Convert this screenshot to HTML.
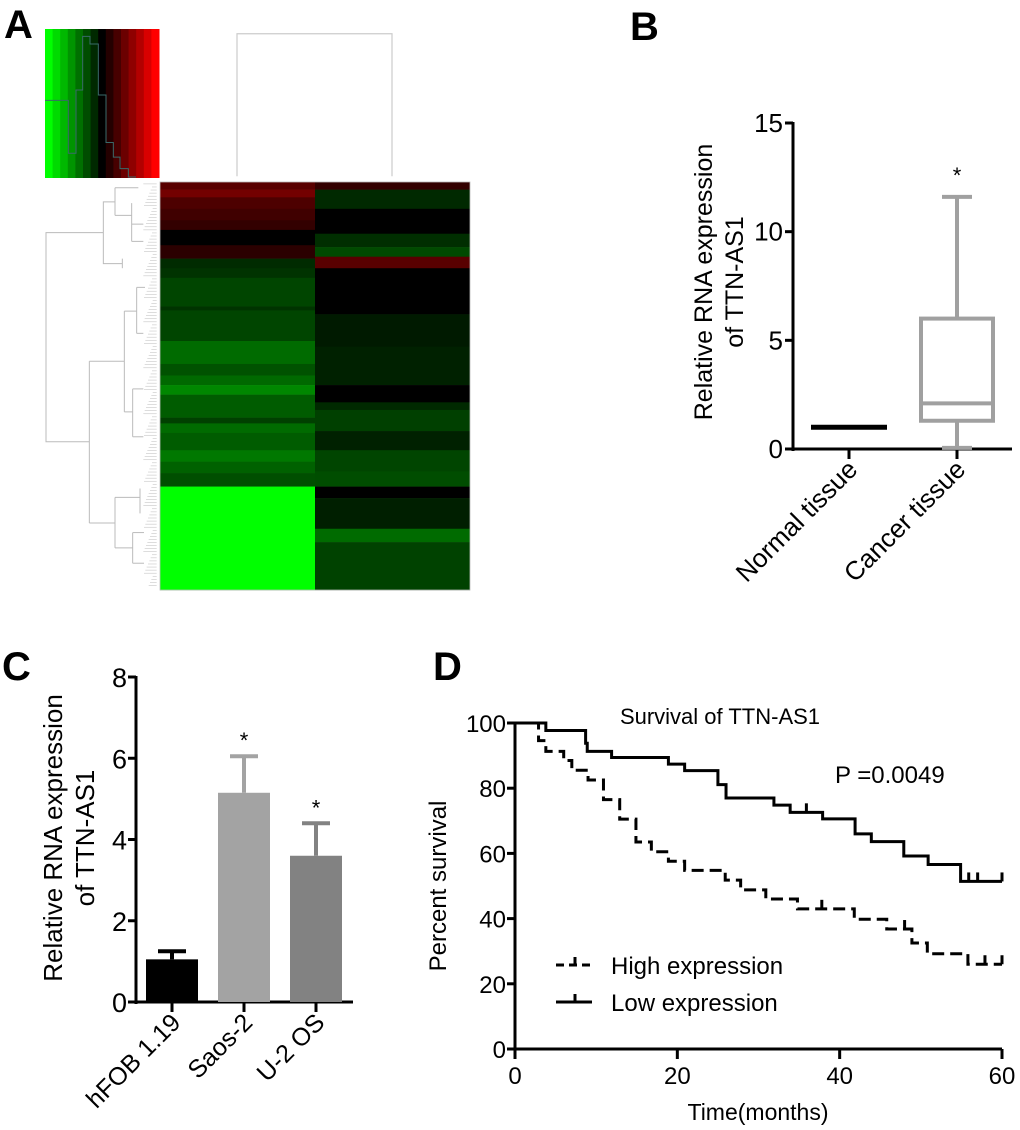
<!DOCTYPE html>
<html><head><meta charset="utf-8">
<style>
body{margin:0;background:#fff;}
svg{display:block;font-family:"Liberation Sans",Arial,sans-serif;}
</style></head>
<body>
<svg id="fig" width="1020" height="1130" viewBox="0 0 1020 1130" xmlns="http://www.w3.org/2000/svg">
<g id="pA"></g>
<g id="pB"></g>
<g id="pC"></g>
<g id="pD"></g>
</svg>
<script>
// ---------- Panel A data ----------
const keyValues = [-1,-0.86,-0.72,-0.58,-0.44,-0.3,-0.16,0,0.14,0.28,0.42,0.56,0.7,0.85,1];
const rowEnds1 = [495,515,545,575,600,640,675,700,725,800,810,890,950,980,1005,1030,1090,1105,1130,1175,1205,1235,1270,1540];
const rowVals1 = [0.35,0.45,0.3,0.25,0.2,0,0.17,-0.17,-0.2,-0.27,-0.2,-0.27,-0.42,-0.32,-0.41,-0.53,-0.36,-0.25,-0.42,-0.36,-0.47,-0.38,-0.31,-1];
const rowEnds2 = [495,545,610,645,670,700,820,905,1005,1050,1070,1125,1175,1230,1270,1300,1380,1415,1540];
const rowVals2 = [0.2,-0.16,0,-0.18,-0.29,0.35,0,-0.1,-0.13,0,-0.16,-0.25,-0.13,-0.27,-0.3,0,-0.12,-0.42,-0.26];
// ---------- Panel B data ----------
const bCats = ["Normal tissue","Cancer tissue"];
const bMin = [1,0.05], bQ1=[1,1.3], bMed=[1,2.1], bQ3=[1,6.0], bMax=[1,11.6];
const bTicks = [0,5,10,15];
// ---------- Panel C data ----------
const cCats = ["hFOB 1.19","Saos-2","U-2 OS"];
const cVals = [1.05,5.15,3.6];
const cErr = [0.2,0.9,0.8];
const cTicks = [0,2,4,6,8];
// ---------- Panel D data ----------
const lowT = [0,3.8,8.7,8.9,11.9,18.9,20.9,25,26,31.9,33.9,37.9,41.9,43.9,47.9,50.9,54.9,60];
const lowS = [100,97.7,93.8,91.3,89.4,87.4,85.4,81.1,77,74.8,72.6,70.6,66,63.6,59.2,56.6,51.4,51.4];
const lowCens = [35.9,55.9,57,60];
const highT = [0,2.9,3.8,6,7,9,10.9,12.9,14.9,16.8,18.9,20.9,25.9,27.8,30.9,34.8,41.8,45.8,48.9,50.8,55.8,60];
const highS = [100,94.6,91.3,88.5,85.5,82.5,76.5,70.5,63.5,60.5,57.6,54.8,51.8,48.8,46,43,39.8,36.8,32.5,29.2,26,26];
const highCens = [37.8,48,57.9,60];
const dTicksX=[0,20,40,60], dTicksY=[0,20,40,60,80,100];

const NS="http://www.w3.org/2000/svg";
function mk(parent,tag,attrs,text){const e=document.createElementNS(NS,tag);for(const k in attrs)e.setAttribute(k,attrs[k]);if(text!==undefined)e.textContent=text;parent.appendChild(e);return e;}
function heatColor(v){if(v<0){return `rgb(0,${Math.round(-v*255)},0)`;}return `rgb(${Math.round(v*255)},0,0)`;}
const SY=2.61;

// ===== Panel A =====
const A=document.getElementById('pA');
let t=mk(A,'text',{x:4,y:38,'font-size':40,'font-weight':'bold'},'A');


const keyG=mk(A,'g',{});


const kx0=45,kw=114/keyValues.length;
keyValues.forEach((v,i)=>{
  const r=mk(keyG,'rect',{x:kx0+i*kw,y:29,width:kw+0.5,height:149,fill:heatColor(v)});
  
  
});
const zg=mk(A,'g',{transform:`scale(${1/3},${1/SY})`});
mk(zg,'polyline',{points:"135,262 158,262 158,262 205,262 205,400 228,400 228,235 248,235 248,95 270,95 270,115 295,115 295,248 318,248 318,372 340,372 340,410 360,410 360,440 385,440 385,462 408,462",fill:'none',stroke:'#3a6a6a','stroke-width':1,'vector-effect':'non-scaling-stroke'});
// top dendrogram
const td=mk(zg,'g',{stroke:'#ccc','stroke-width':1.2,fill:'none'});


mk(td,'polyline',{points:"711,460 711,88 1176,88 1176,460",'vector-effect':'non-scaling-stroke'});
// left dendrogram
const ld=mk(zg,'g',{stroke:'#bbb','stroke-width':1,fill:'none'});


const lines=["310,607 138,607 138,1153 268,1153","345,527 310,527 310,688 367,688","367,675 367,700","345,490 345,562","345,490 415,490","345,562 395,562 395,530 395,630","395,585 430,585","395,630 430,630","268,943 268,1365","268,943 373,943","373,812 373,1075","373,812 410,812 410,750 410,870","410,750 435,750","410,870 430,870","373,1075 398,1075 398,1015 398,1140","398,1015 430,1015","398,1140 430,1140","268,1365 345,1365 345,1298 345,1430","345,1298 420,1298 420,1275 420,1340","345,1430 398,1430 398,1390 398,1470","398,1390 432,1390","398,1470 432,1470"];
lines.forEach(p=>mk(ld,'polyline',{points:p,'vector-effect':'non-scaling-stroke'}));
for(let y=480;y<1535;y+=8){mk(ld,'line',{x1:430+((y*7)%30),y1:y,x2:470,y2:y,'stroke-width':0.5,'vector-effect':'non-scaling-stroke'});}
// heatmap
const hm=mk(A,'g',{});


function drawCol(ends,vals,x,w){let prev=475;ends.forEach((e,i)=>{const r=mk(hm,'rect',{x:x,y:prev/SY,width:w,height:(e-prev)/SY+0.3,fill:heatColor(vals[i])});prev=e;});}
drawCol(rowEnds1,rowVals1,160,155);
drawCol(rowEnds2,rowVals2,315,155);
mk(hm,'rect',{x:160,y:475/SY,width:310,height:(1540-475)/SY,fill:'none',stroke:'#bbb','stroke-width':0.8});

// ===== Panel B =====
const B=document.getElementById('pB');
t=mk(B,'text',{x:630,y:40,'font-size':40,'font-weight':'bold'},'B');


const bx0=793,by0=449,by15=123;
const bY=v=>by0-(by0-by15)*v/15;
const bX=[849,957];
mk(B,'line',{x1:bx0,y1:by15-1,x2:bx0,y2:by0+2,stroke:'#000','stroke-width':3});
mk(B,'line',{x1:bx0,y1:by0,x2:1012,y2:by0,stroke:'#000','stroke-width':3});
bTicks.forEach(v=>{mk(B,'line',{x1:bx0-8,y1:bY(v),x2:bx0,y2:bY(v),stroke:'#000','stroke-width':3});
  const l=mk(B,'text',{x:bx0-10,y:bY(v)+9,'font-size':26,'text-anchor':'end'},v);
  
  });
const by=mk(B,'text',{transform:'translate(712,282) rotate(-90)','font-size':25,'text-anchor':'middle'});


mk(by,'tspan',{x:0,y:0},'Relative RNA expression');
mk(by,'tspan',{x:0,y:31},'of TTN-AS1');
bCats.forEach((c,i)=>{
  mk(B,'line',{x1:bX[i],y1:by0,x2:bX[i],y2:by0+10,stroke:'#000','stroke-width':3});
  const l=mk(B,'text',{transform:`translate(${bX[i]+10},${by0+22}) rotate(-45)`,'font-size':26,'text-anchor':'end'},c);
  
  
});
let nb=mk(B,'line',{x1:bX[0]-38,y1:bY(bMed[0]),x2:bX[0]+38,y2:bY(bMed[0]),stroke:'#000','stroke-width':5});


const cb=mk(B,'g',{stroke:'#a0a0a0','stroke-width':4,fill:'none'});


const cx=bX[1];
mk(cb,'rect',{x:cx-36,y:bY(bQ3[1]),width:72,height:bY(bQ1[1])-bY(bQ3[1])});
mk(cb,'line',{x1:cx-36,y1:bY(bMed[1]),x2:cx+36,y2:bY(bMed[1])});
mk(cb,'line',{x1:cx,y1:bY(bQ3[1]),x2:cx,y2:bY(bMax[1])});
mk(cb,'line',{x1:cx,y1:bY(bQ1[1]),x2:cx,y2:bY(bMin[1])});
mk(cb,'line',{x1:cx-15,y1:bY(bMax[1]),x2:cx+15,y2:bY(bMax[1])});
mk(cb,'line',{x1:cx-15,y1:bY(bMin[1]),x2:cx+15,y2:bY(bMin[1])});
t=mk(B,'text',{x:cx,y:bY(bMax[1])-14,'font-size':22,'text-anchor':'middle'},'*');



// ===== Panel C =====
const C=document.getElementById('pC');
t=mk(C,'text',{x:2,y:680,'font-size':40,'font-weight':'bold'},'C');


const cx0=136,cy0=1002,cy8=677;
const cY=v=>cy0-(cy0-cy8)*v/8;
const cXs=[172,244,316];
const cCols=['#000','#a3a3a3','#828282'];
mk(C,'line',{x1:cx0,y1:cy8-1,x2:cx0,y2:cy0+2,stroke:'#000','stroke-width':3});
mk(C,'line',{x1:cx0,y1:cy0,x2:353,y2:cy0,stroke:'#000','stroke-width':3});
cTicks.forEach(v=>{mk(C,'line',{x1:cx0-8,y1:cY(v),x2:cx0,y2:cY(v),stroke:'#000','stroke-width':3});
  const l=mk(C,'text',{x:cx0-9,y:cY(v)+10,'font-size':27,'text-anchor':'end'},v);
  
  });
const cyT=mk(C,'text',{transform:'translate(62,838) rotate(-90)','font-size':26,'text-anchor':'middle'});


mk(cyT,'tspan',{x:0,y:0},'Relative RNA expression');
mk(cyT,'tspan',{x:0,y:32},'of TTN-AS1');
cCats.forEach((c,i)=>{
  const x=cXs[i];
  const e=mk(C,'g',{stroke:cCols[i],'stroke-width':4});
  
  
  mk(e,'line',{x1:x,y1:cY(cVals[i]),x2:x,y2:cY(cVals[i]+cErr[i])});
  mk(e,'line',{x1:x-14,y1:cY(cVals[i]+cErr[i]),x2:x+14,y2:cY(cVals[i]+cErr[i])});
  const r=mk(C,'rect',{x:x-26,y:cY(cVals[i]),width:52,height:cy0-cY(cVals[i]),fill:cCols[i]});
  
  
  mk(C,'line',{x1:x,y1:cy0,x2:x,y2:cy0+10,stroke:'#000','stroke-width':3});
  const l=mk(C,'text',{transform:`translate(${x+10},${cy0+22}) rotate(-45)`,'font-size':25,'text-anchor':'end'},c);
  
  
  if(i>0){const s=mk(C,'text',{x:x,y:cY(cVals[i]+cErr[i])-8,'font-size':22,'text-anchor':'middle'},'*');
    
    }
});

// ===== Panel D =====
const D=document.getElementById('pD');
t=mk(D,'text',{x:433,y:680,'font-size':40,'font-weight':'bold'},'D');


const dx0=515,dx60=1002,dy0=1049,dy100=723;
const dX=v=>dx0+(dx60-dx0)*v/60;
const dY=v=>dy0-(dy0-dy100)*v/100;
t=mk(D,'text',{x:720,y:724,'font-size':22,'text-anchor':'middle'},'Survival of TTN-AS1');


mk(D,'line',{x1:dx0,y1:dy100-1,x2:dx0,y2:dy0+10,stroke:'#000','stroke-width':3});
mk(D,'line',{x1:dx0-8,y1:dy0,x2:dx60,y2:dy0,stroke:'#000','stroke-width':3});
dTicksY.forEach(v=>{mk(D,'line',{x1:dx0-8,y1:dY(v),x2:dx0,y2:dY(v),stroke:'#000','stroke-width':3});
  const l=mk(D,'text',{x:dx0-9,y:dY(v)+9,'font-size':24,'text-anchor':'end'},v);
  
  });
dTicksX.forEach(v=>{mk(D,'line',{x1:dX(v),y1:dy0,x2:dX(v),y2:dy0+10,stroke:'#000','stroke-width':3});
  const l=mk(D,'text',{x:dX(v),y:dy0+35,'font-size':24,'text-anchor':'middle'},v);
  
  });
t=mk(D,'text',{transform:'translate(446,886) rotate(-90)','font-size':24,'text-anchor':'middle'},'Percent survival');


t=mk(D,'text',{x:758,y:1120,'font-size':23,'text-anchor':'middle'},'Time(months)');


t=mk(D,'text',{x:835,y:783,'font-size':24},'P =0.0049');


function stepPts(T,S){let p=[];for(let i=0;i<T.length;i++){if(i>0)p.push(dX(T[i])+','+dY(S[i-1]));p.push(dX(T[i])+','+dY(S[i]));}return p.join(' ');}
function survAt(T,S,x){let s=S[0];for(let i=0;i<T.length;i++){if(T[i]<=x)s=S[i];}return s;}
const hl=mk(D,'polyline',{points:stepPts(highT,highS),fill:'none',stroke:'#000','stroke-width':3,'stroke-dasharray':'12,6'});


const ll=mk(D,'polyline',{points:stepPts(lowT,lowS),fill:'none',stroke:'#000','stroke-width':3});


highCens.forEach(c=>{const y=dY(survAt(highT,highS,c));const m=mk(D,'line',{x1:dX(c),y1:y,x2:dX(c),y2:y-9,stroke:'#000','stroke-width':3});});
lowCens.forEach(c=>{const y=dY(survAt(lowT,lowS,c));const m=mk(D,'line',{x1:dX(c),y1:y,x2:dX(c),y2:y-9,stroke:'#000','stroke-width':3});});
const lg=mk(D,'g',{});


mk(lg,'line',{x1:556,y1:965,x2:592,y2:965,stroke:'#000','stroke-width':3,'stroke-dasharray':'8,5'});
mk(lg,'line',{x1:575,y1:965,x2:575,y2:957,stroke:'#000','stroke-width':3});
mk(lg,'text',{x:611,y:974,'font-size':24},'High expression');
mk(lg,'line',{x1:556,y1:1002,x2:592,y2:1002,stroke:'#000','stroke-width':3});
mk(lg,'line',{x1:575,y1:1002,x2:575,y2:994,stroke:'#000','stroke-width':3});
mk(lg,'text',{x:611,y:1011,'font-size':24},'Low expression');
</script>
</body></html>
